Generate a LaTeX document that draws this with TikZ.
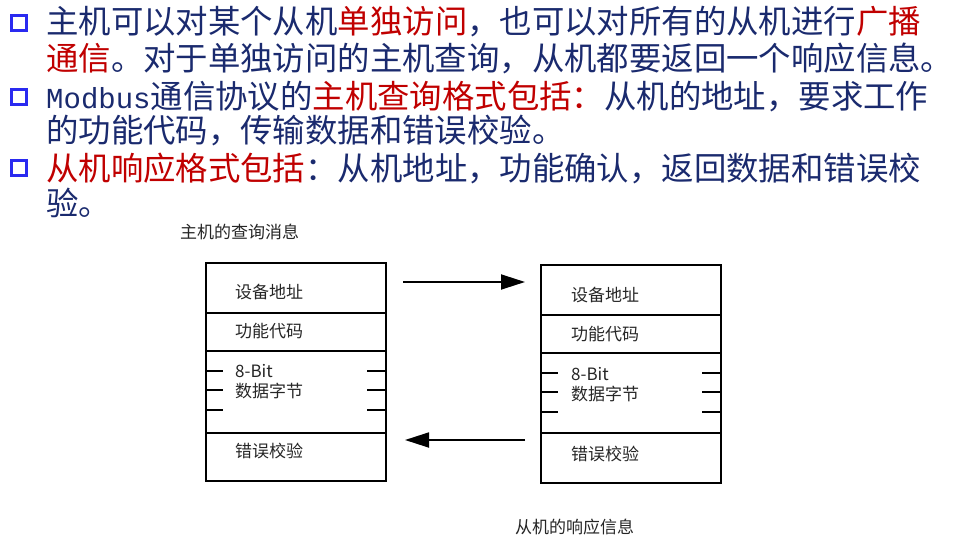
\documentclass[tikz,border=0pt]{standalone}
\usepackage{fontspec}
\setmainfont{Noto Sans CJK SC}
\newfontfamily\monofnt{Liberation Mono}
\usetikzlibrary{arrows.meta}
\definecolor{navy}{HTML}{1A2A6E}
\definecolor{dred}{HTML}{C00000}
\definecolor{bul}{HTML}{2A2AF0}
\begin{document}
\begin{tikzpicture}[x=1pt,y=-1pt,
  line/.style={anchor=west,inner sep=0,font=\fontsize{32.4}{33}\selectfont,text=navy},
  bullet/.style={draw=bul,line width=3.5pt,minimum size=15pt,inner sep=0},
  row/.style={draw,line width=1.8pt,minimum width=180pt,anchor=north west,inner sep=0},
  lbl/.style={anchor=west,inner sep=0,font=\fontsize{17}{17}\selectfont,text=black!85},
  arr/.style={line width=1.8pt,-{Triangle[length=24pt,width=15pt]}}]
\useasboundingbox (0,0) rectangle (956,548);
\node[bullet] (b1) at (19,23) {};
\node[bullet] (b2) at (19,97) {};
\node[bullet] (b3) at (19,168) {};
\node[line] (l1) at (46,22) {主机可以对某个从机\textcolor{dred}{单独访问}，也可以对所有的从机进行\textcolor{dred}{广播}};
\node[line] (l2) at (46,58) {\textcolor{dred}{通信}。对于单独访问的主机查询，从机都要返回一个响应信息。};
\node[line] (l3) at (46,97) {{\monofnt\fontsize{29}{29}\selectfont Modbus}通信协议的\textcolor{dred}{主机查询格式包括：}从机的地址，要求工作};
\node[line] (l4) at (46,131) {的功能代码，传输数据和错误校验。};
\node[line] (l5) at (46,168) {\textcolor{dred}{从机响应格式包括}：从机地址，功能确认，返回数据和错误校};
\node[line] (l6) at (46,203) {验。};
% left box
\node[row,minimum height=50pt] (a1) at (205,262) {};
\node[row,minimum height=38pt] (a2) at (205,312) {};
\node[row,minimum height=82pt] (a3) at (205,350) {};
\node[row,minimum height=48pt] (a4) at (205,432) {};
\foreach \y in {371,390,410}{\draw[line width=1.8pt] (205,\y) -- (223,\y) (367,\y) -- (385,\y);}
\node[lbl] at (235,292) {设备地址};
\node[lbl] at (235,331) {功能代码};
\node[lbl] at (235,371) {8-Bit};
\node[lbl] at (235,391) {数据字节};
\node[lbl] at (235,451) {错误校验};
% right box
\node[row,minimum height=50pt] (c1) at (540,264) {};
\node[row,minimum height=38pt] (c2) at (540,314) {};
\node[row,minimum height=80pt] (c3) at (540,352) {};
\node[row,minimum height=50pt] (c4) at (540,432) {};
\foreach \y in {373,392,412}{\draw[line width=1.8pt] (540,\y) -- (558,\y) (702,\y) -- (720,\y);}
\node[lbl] at (571,295) {设备地址};
\node[lbl] at (571,334) {功能代码};
\node[lbl] at (571,374) {8-Bit};
\node[lbl] at (571,394) {数据字节};
\node[lbl] at (571,454) {错误校验};
\node[lbl] (t1) at (180,232) {主机的查询消息};
\node[lbl] (t2) at (515,527) {从机的响应信息};
\coordinate (p1) at (403,282); \coordinate (p2) at (525,282);
\coordinate (q1) at (525,440); \coordinate (q2) at (405,440);
\draw[arr] (p1) -- (p2);
\draw[arr] (q1) -- (q2);
\end{tikzpicture}
\end{document}
